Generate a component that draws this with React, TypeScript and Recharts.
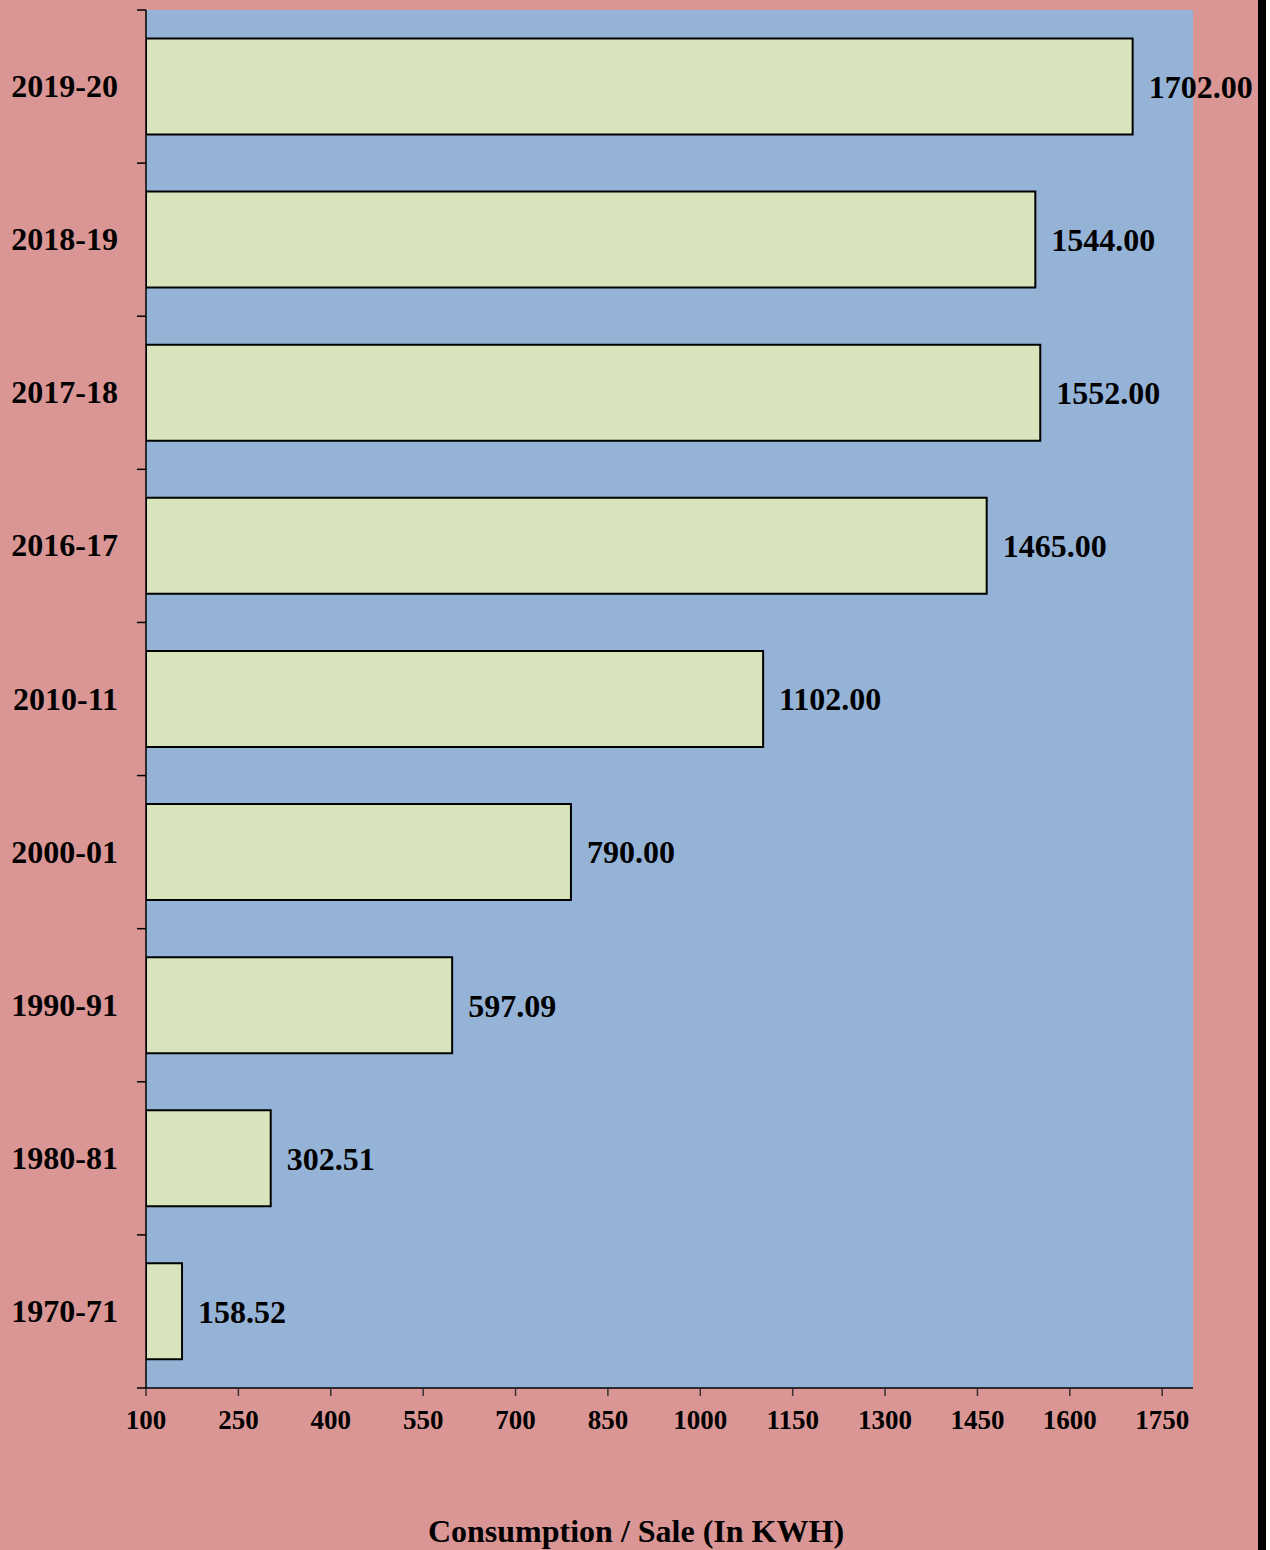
import React from 'react';
import { BarChart, Bar, XAxis, YAxis, LabelList } from 'recharts';

const years = ['2019-20', '2018-19', '2017-18', '2016-17', '2010-11', '2000-01', '1990-91', '1980-81', '1970-71'];
const consumption = [1702.0, 1544.0, 1552.0, 1465.0, 1102.0, 790.0, 597.09, 302.51, 158.52];
const xTicks = [100, 250, 400, 550, 700, 850, 1000, 1150, 1300, 1450, 1600, 1750];
const xDomain = [100, 1800];
const axisTitle = 'Consumption / Sale (In KWH)';

const data = years.map((y, i) => ({ year: y, value: consumption[i] }));

const FONT = '"Liberation Serif", "Times New Roman", serif';
const Y_TICK_SIZE = 9;
const Y_TICK_MARGIN = 19;

const YTick = (props: any) => {
  const { x, y, payload, index, visibleTicksCount } = props;
  const half = payload && payload.offset ? payload.offset : 0;
  const lx2 = x + Y_TICK_MARGIN + Y_TICK_SIZE;
  const lx1 = x + Y_TICK_MARGIN;
  const isLast = index === (visibleTicksCount ?? years.length) - 1;
  return (
    <g>
      <line x1={lx1} x2={lx2} y1={y - half} y2={y - half} stroke="#000" strokeWidth={1.5} />
      {isLast && <line x1={lx1} x2={lx2} y1={y + half} y2={y + half} stroke="#000" strokeWidth={1.5} />}
      <text x={x} y={y} dy="0.33em" textAnchor="end" fontFamily={FONT} fontWeight="bold" fontSize={32} fill="#000">
        {payload.value}
      </text>
    </g>
  );
};

const fmt = (v: any) => Number(v).toFixed(2);

export default function App() {
  return (
    <div
      style={{
        position: 'absolute',
        top: 0,
        left: 0,
        width: 1258,
        height: 1550,
        background: '#DA9694',
        borderRight: '8px solid #000',
      }}
    >
      <BarChart
        width={1258}
        height={1550}
        data={data}
        layout="vertical"
        margin={{ top: 10, right: 65, bottom: 102, left: 0 }}
        barCategoryGap="18.6%"
      >
        <rect x={146} y={10} width={1047} height={1378} fill="#95B3D7" />
        <XAxis
          type="number"
          domain={xDomain}
          ticks={xTicks}
          allowDataOverflow
          height={60}
          axisLine={{ stroke: '#000', strokeWidth: 1.5 }}
          tickLine={{ stroke: '#333', strokeWidth: 1.5 }}
          tickSize={8}
          tickMargin={14}
          tick={{ fontFamily: FONT, fontWeight: 'bold', fontSize: 27, fill: '#000' }}
          interval={0}
        />
        <YAxis
          type="category"
          dataKey="year"
          width={146}
          axisLine={{ stroke: '#000', strokeWidth: 1.5 }}
          tickLine={false}
          tickSize={Y_TICK_SIZE}
          tickMargin={Y_TICK_MARGIN}
          tick={<YTick />}
          interval={0}
        />
        <Bar dataKey="value" fill="#D8E4BC" stroke="#000" strokeWidth={2} isAnimationActive={false}>
          <LabelList
            dataKey="value"
            position="right"
            offset={16}
            formatter={fmt}
            style={{ fontFamily: FONT, fontWeight: 'bold', fontSize: 32, fill: '#000' }}
          />
        </Bar>
      </BarChart>
      <div
        style={{
          position: 'absolute',
          left: 0,
          width: 1272,
          top: 1513,
          textAlign: 'center',
          fontFamily: FONT,
          fontWeight: 'bold',
          fontSize: 32,
          lineHeight: '36px',
          color: '#000',
        }}
      >
        {axisTitle}
      </div>
    </div>
  );
}
